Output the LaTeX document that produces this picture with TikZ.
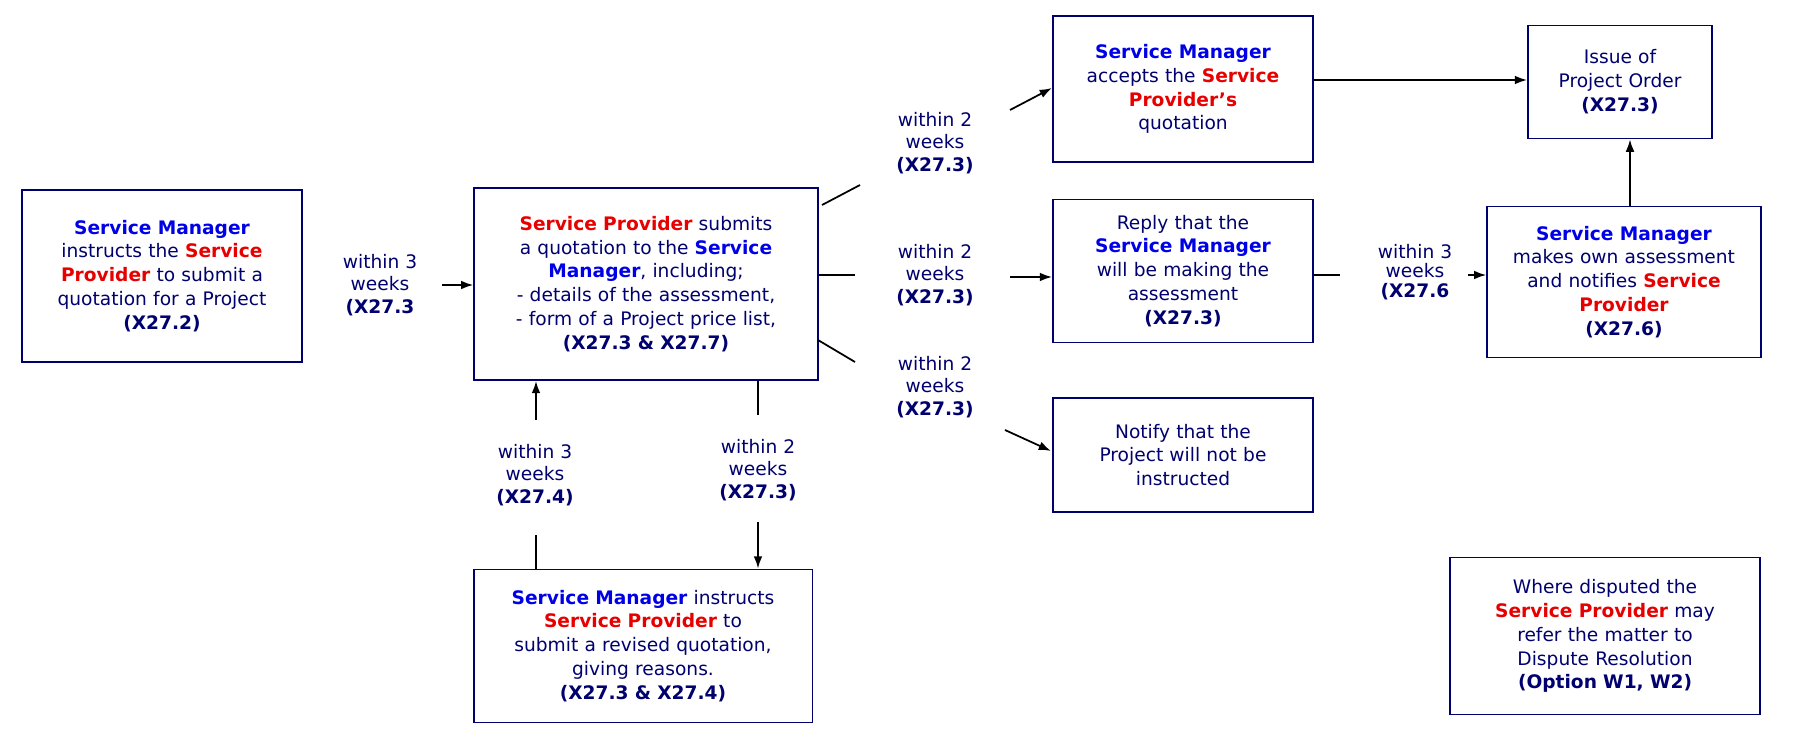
\documentclass[tikz,border=0pt]{standalone}
\usepackage{fontspec}
\setmainfont{DejaVu Sans}
\usetikzlibrary{arrows.meta}
\definecolor{navy}{RGB}{0,0,110}
\definecolor{smblue}{RGB}{0,0,230}
\definecolor{spred}{RGB}{230,0,0}
\newcommand{\smn}[1]{{\color{smblue}\bfseries #1}}
\newcommand{\spn}[1]{{\color{spred}\bfseries #1}}
\tikzset{
 box/.style={draw=navy,line width=1.1pt,text=navy,align=center,font=\fontsize{10.6}{13.6}\selectfont,inner sep=1pt},
 lbl/.style={text=navy,align=center,font=\fontsize{10.6}{13}\selectfont},
 conn/.style={line width=1pt,black},
 arr/.style={conn,-{Latex[length=7pt,width=5pt]}}
}
\begin{document}
\begin{tikzpicture}[x=0.02cm,y=-0.02cm]
\useasboundingbox (0,0) rectangle (1795,740);
\node[box,minimum width=5.6cm,minimum height=3.44cm,text width=5.5cm] (A) at (162,276) {\smn{Service Manager}\\instructs the \spn{Service}\\\spn{Provider} to submit a\\quotation for a Project\\\textbf{(X27.2)}};
\node[box,minimum width=6.86cm,minimum height=3.84cm,text width=6.8cm] (B) at (646,284) {\spn{Service Provider} submits\\a quotation to the \smn{Service}\\\smn{Manager}, including;\\- details of the assessment,\\- form of a Project price list,\\\textbf{(X27.3 \& X27.7)}};
\node[box,minimum width=5.2cm,minimum height=2.92cm,text width=5.1cm] (C) at (1183,89) {\smn{Service Manager}\\accepts the \spn{Service}\\\spn{Provider{\char"27}s}\\quotation};
\node[box,minimum width=3.68cm,minimum height=2.26cm,text width=3.6cm] (D) at (1620,82) {Issue of\\Project Order\\\textbf{(X27.3)}};
\node[box,minimum width=5.2cm,minimum height=2.86cm,text width=5.1cm] (E) at (1183,271) {Reply that the\\\smn{Service Manager}\\will be making the\\assessment\\\textbf{(X27.3)}};
\node[box,minimum width=5.42cm,minimum height=3.02cm,text width=5.4cm] (F) at (1624,282) {\smn{Service Manager}\\makes own assessment\\and notifies \spn{Service}\\\spn{Provider}\\\textbf{(X27.6)}};
\node[box,minimum width=5.2cm,minimum height=2.28cm,text width=5.1cm] (G) at (1183,455) {Notify that the\\Project will not be\\instructed};
\node[box,minimum width=6.78cm,minimum height=3.06cm,text width=6.7cm] (H) at (643,646) {\smn{Service Manager} instructs\\\spn{Service Provider} to\\submit a revised quotation,\\giving reasons.\\\textbf{(X27.3 \& X27.4)}};
\node[box,minimum width=6.2cm,minimum height=3.14cm,text width=6.1cm] (I) at (1605,636) {Where disputed the\\\spn{Service Provider} may\\refer the matter to\\Dispute Resolution\\\textbf{(Option W1, W2)}};
% A -> B
\node[lbl] (l1) at (380,285) {within 3\\weeks\\\textbf{(X27.3}};
\coordinate (c1) at (442,285);
\draw[arr] (c1) -- (B.west |- c1);
% B -> C
\node[lbl] (l2) at (935,143) {within 2\\weeks\\\textbf{(X27.3)}};
\coordinate (c2a) at (822,205); \coordinate (c2b) at (860,185);
\coordinate (c2c) at (1010,110); \coordinate (c2d) at (1052,88);
\draw[conn] (c2a) -- (c2b); \draw[arr] (c2c) -- (c2d);
% B -> E
\node[lbl] (l3) at (935,275) {within 2\\weeks\\\textbf{(X27.3)}};
\coordinate (c3a) at (855,275); \coordinate (c3b) at (1010,277);
\draw[conn] (B.east |- c3a) -- (c3a); \draw[arr] (c3b) -- (E.west |- c3b);
% B -> G
\node[lbl] (l4) at (935,387) {within 2\\weeks\\\textbf{(X27.3)}};
\coordinate (c4a) at (818,340); \coordinate (c4b) at (855,362);
\coordinate (c4c) at (1005,430); \coordinate (c4d) at (1051,451);
\draw[conn] (c4a) -- (c4b); \draw[arr] (c4c) -- (c4d);
% E -> F
\node[lbl,font=\fontsize{10.6}{11}\selectfont] (l5) at (1415,272) {within 3\\weeks\\\textbf{(X27.6}};
\coordinate (c5a) at (1340,275); \coordinate (c5b) at (1468,275);
\draw[conn] (E.east |- c5a) -- (c5a); \draw[arr] (c5b) -- (F.west |- c5b);
% C -> D
\draw[arr] (C.east |- 0,80) -- (D.west |- 0,80);
% F -> D
\draw[arr] (F.north -| 1630,0) -- (D.south -| 1630,0);
% H -> B
\node[lbl] (l6) at (535,475) {within 3\\weeks\\\textbf{(X27.4)}};
\coordinate (c6a) at (536,535); \coordinate (c6b) at (536,420);
\draw[conn] (H.north -| c6a) -- (c6a); \draw[arr] (c6b) -- (B.south -| c6b);
% B -> H
\node[lbl] (l7) at (758,470) {within 2\\weeks\\\textbf{(X27.3)}};
\coordinate (c7a) at (758,415); \coordinate (c7b) at (758,522);
\draw[conn] (B.south -| c7a) -- (c7a); \draw[arr] (c7b) -- (H.north -| c7b);
\end{tikzpicture}
\end{document}
